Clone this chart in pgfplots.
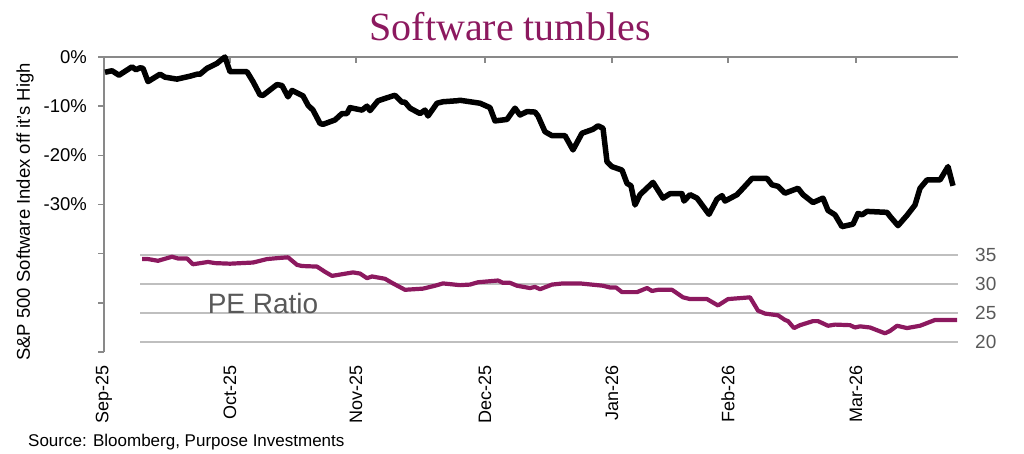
\documentclass[border=0pt]{standalone}
\usepackage{pgfplots}
\pgfplotsset{compat=1.18}
\usepackage{fontspec}
\setmainfont{Liberation Sans}
\newfontfamily\titlefont{Liberation Serif}
\definecolor{plum}{RGB}{140,25,95}
\definecolor{axgray}{RGB}{137,137,137}
\definecolor{gridgray}{RGB}{191,191,191}
\definecolor{lblgray}{RGB}{89,89,89}

% x is measured in days-like units from the Sep-25 tick (0) to the end of the chart (854)
\pgfplotstableread{
x y
1 -3.1
8 -2.8
15 -3.7
28 -2.0
32 -2.6
36 -2.2
39 -2.3
44 -5.0
56 -3.5
61 -4.1
73 -4.5
86 -3.9
93 -3.5
96 -3.5
103 -2.3
113 -1.3
119 -0.3
121 0
126 -3.0
143 -3.0
149 -5.0
156 -7.7
159 -7.8
173 -5.6
178 -5.8
184 -8.1
188 -6.8
199 -7.9
204 -9.8
209 -10.8
216 -13.5
219 -13.7
231 -12.8
238 -11.5
243 -11.5
246 -10.3
258 -10.8
263 -10.0
266 -10.9
274 -8.9
289 -7.9
291 -7.8
298 -9.2
301 -9.2
306 -10.4
316 -11.5
321 -10.8
324 -12.0
333 -9.4
339 -9.1
353 -8.9
356 -8.8
376 -9.4
386 -10.3
391 -13.0
403 -12.7
411 -10.4
416 -11.8
423 -11.1
431 -11.2
434 -12.0
441 -15.2
448 -16.0
461 -16.0
469 -18.9
478 -15.5
489 -14.7
494 -14.0
499 -14.5
503 -21.3
508 -22.3
518 -23.0
523 -25.7
527 -26.2
531 -30.1
536 -28.0
549 -25.5
559 -28.7
566 -27.8
578 -27.8
580 -29.3
586 -28.0
593 -28.7
605 -32.0
613 -28.9
618 -28.2
621 -29.3
633 -28.0
639 -26.7
648 -24.7
663 -24.7
668 -26.0
674 -26.3
681 -27.7
694 -26.7
699 -28.0
709 -29.6
719 -28.7
724 -31.2
731 -32.1
738 -34.5
749 -34.0
754 -31.8
758 -32.1
763 -31.4
783 -31.6
786 -32.4
794 -34.3
803 -32.2
811 -30.1
816 -26.7
823 -25.0
836 -25.0
844 -22.3
849 -26.2
}\software

\pgfplotstableread{
x y
38 34.3
44 34.3
54 34.0
68 34.7
74 34.4
83 34.4
89 33.4
104 33.8
111 33.6
126 33.5
149 33.7
163 34.3
176 34.5
184 34.6
193 33.3
198 33.1
213 33.0
221 32.1
228 31.4
249 32.0
256 31.8
263 31.0
268 31.3
281 30.9
289 30.1
301 29.0
319 29.2
331 29.7
339 30.1
356 29.8
366 29.9
374 30.3
394 30.6
399 30.2
406 30.2
413 29.7
426 29.3
431 29.5
436 29.1
448 29.9
459 30.1
476 30.1
499 29.7
506 29.4
512 29.4
518 28.6
533 28.6
543 29.3
548 28.8
554 29.0
568 29.0
579 27.7
586 27.4
603 27.4
614 26.3
624 27.4
646 27.7
654 25.4
661 24.9
674 24.6
681 23.8
684 23.6
690 22.4
696 22.9
709 23.6
714 23.6
724 22.8
731 23.0
746 22.9
751 22.5
756 22.7
766 22.5
781 21.5
786 21.9
793 22.8
803 22.4
816 22.8
831 23.8
853 23.8
}\peratio

\begin{document}
\begin{tikzpicture}[x=1pt,y=1pt]
\path (0,0) rectangle (1024,454);

% top axis line with month ticks
\begin{axis}[
  at={(104pt,102pt)}, anchor=south west,
  scale only axis, width=854pt, height=295pt,
  xmin=0, xmax=854, ymin=-60, ymax=0,
  axis x line*=top, hide y axis,
  xtick={0,126,252,381,508,624,752},
  xticklabels={},
  xtick align=inside, major tick length=6pt,
  x axis line style={draw=axgray, line width=2pt},
  xtick style={draw=axgray, line width=1.5pt},
]
\addplot[draw=none] coordinates {(0,0)};
\end{axis}

% PE ratio panel
\begin{axis}[
  at={(140pt,112pt)}, anchor=south west,
  scale only axis, width=818pt, height=87pt,
  xmin=36, xmax=854, ymin=20, ymax=35,
  hide x axis, axis y line*=right,
  y axis line style={draw=none},
  ytick={20,25,30,35}, yticklabels={20,25,30,35},
  ymajorgrids, grid style={gridgray, line width=1.5pt},
  major tick length=0pt,
  yticklabel style={font=\fontsize{19}{19}\selectfont, text=lblgray, anchor=west, inner sep=0pt, xshift=17pt},
  clip=false,
]
\addplot[plum, line width=4.2pt, line join=round] table {\peratio};
\node[text=lblgray, font=\fontsize{28}{28}\selectfont] at (axis cs:159,26.7) {PE Ratio};
\end{axis}

% main axis
\begin{axis}[
  at={(104pt,102pt)}, anchor=south west,
  scale only axis, width=854pt, height=295pt,
  xmin=0, xmax=854, ymin=-60, ymax=0,
  axis y line*=left, axis x line*=bottom,
  x axis line style={draw=none},
  y axis line style={draw=axgray, line width=2pt},
  ytick={0,-10,-20,-30,-40,-50,-60},
  yticklabels={0\%,-10\%,-20\%,-30\%,,,},
  ytick align=outside, major tick length=6pt,
  ytick style={draw=axgray, line width=1.5pt},
  yticklabel style={font=\fontsize{18.5}{18.5}\selectfont, inner sep=0pt, xshift=-11pt},
  xtick={0,126,252,381,508,624,752},
  xticklabels={Sep-25,Oct-25,Nov-25,Dec-25,Jan-26,Feb-26,Mar-26},
  xtick align=inside, xtick style={draw=none},
  xticklabel style={rotate=90, anchor=east, inner sep=0pt, font=\fontsize{18}{18}\selectfont},
  xticklabel shift=13pt,
  clip=false,
]
\addplot[black, line width=5.5pt, line join=round] table {\software};
\end{axis}

\node[rotate=90, font=\fontsize{18.5}{18.5}\selectfont] at (25,242) {S\&P 500 Software Index off it's High};
\node[anchor=base, text=plum, font=\titlefont\fontsize{40}{40}\selectfont] at (510,413) {Software tumbles};
\node[anchor=base west, inner sep=0pt, font=\fontsize{17}{17}\selectfont] at (28,7) {Source: Bloomberg, Purpose Investments};
\end{tikzpicture}
\end{document}
